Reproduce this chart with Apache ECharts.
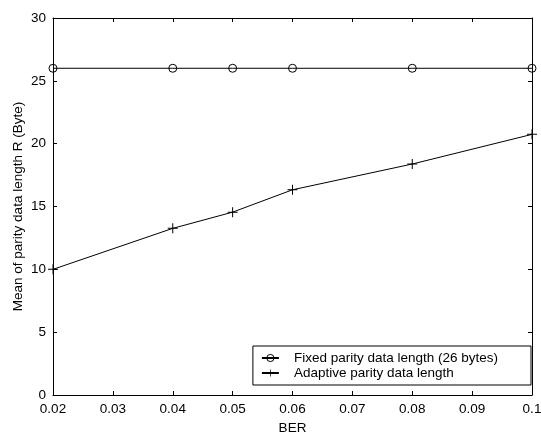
<!DOCTYPE html>
<html>
<head>
<meta charset="utf-8">
<script src="https://cdn.jsdelivr.net/npm/echarts@6/dist/echarts.min.js"></script>
<style>html,body{margin:0;padding:0;background:#fff}#c{width:541px;height:433px}</style>
</head>
<body>
<div id="c"></div>
<script>
const berValues = [0.02, 0.04, 0.05, 0.06, 0.08, 0.1];
const fixedLength = [26, 26, 26, 26, 26, 26];
const adaptiveLength = [10, 13.26, 14.55, 16.33, 18.38, 20.74];
const seriesNames = ['Fixed parity data length (26 bytes)', 'Adaptive parity data length'];
const xLabel = 'BER';
const yLabel = 'Mean of parity data length R (Byte)';

const font = 'Liberation Sans, Arial, sans-serif';
const fs = 13.5;
const plusPath = 'path://M4.5,0h1v4.5h4.5v1h-4.5v4.5h-1v-4.5h-4.5v-1h4.5z';

const chart = echarts.init(document.getElementById('c'), null, {renderer: 'canvas'});
const axisCommon = {
  axisLine: {show: true, onZero: false, lineStyle: {color: '#000', width: 1}},
  axisTick: {show: true, inside: true, length: 4, lineStyle: {color: '#000'}},
  splitLine: {show: false}
};
chart.setOption({
  animation: false,
  backgroundColor: '#fff',
  grid: {left: 53, right: 9, top: 18, bottom: 38, containLabel: false, outerBoundsMode: 'none'},
  xAxis: [
    Object.assign({
      type: 'value', min: 0.02, max: 0.1, interval: 0.01, position: 'bottom',
      name: xLabel, nameLocation: 'middle', nameGap: 25,
      nameTextStyle: {fontFamily: font, fontSize: fs, color: '#000'},
      axisLabel: {fontFamily: font, fontSize: fs, color: '#000', margin: 7,
        formatter: v => String(+v.toFixed(2))}
    }, axisCommon),
    Object.assign({
      type: 'value', min: 0.02, max: 0.1, interval: 0.01, position: 'top',
      axisLabel: {show: false}
    }, axisCommon)
  ],
  yAxis: [
    Object.assign({
      type: 'value', min: 0, max: 30, interval: 5, position: 'left',
      name: yLabel, nameLocation: 'middle', nameGap: 28, nameMoveOverlap: false,
      nameTextStyle: {fontFamily: font, fontSize: fs, color: '#000'},
      axisLabel: {fontFamily: font, fontSize: fs, color: '#000', margin: 7}
    }, axisCommon),
    Object.assign({
      type: 'value', min: 0, max: 30, interval: 5, position: 'right',
      axisLabel: {show: false}
    }, axisCommon)
  ],
  legend: {
    orient: 'vertical', right: 10, bottom: 48,
    backgroundColor: '#fff', borderColor: '#000', borderWidth: 1, borderRadius: 0,
    padding: [5, 33, 5, 8], itemGap: 1, itemWidth: 17, itemHeight: 9,
    itemStyle: {borderWidth: 1},
    textStyle: {fontFamily: font, fontSize: fs, color: '#000', padding: [0, 0, 0, 10]},
    data: seriesNames
  },
  series: [
    {
      name: seriesNames[0], type: 'line',
      data: berValues.map((x, i) => [x, fixedLength[i]]),
      symbol: 'circle', symbolSize: 8,
      lineStyle: {color: '#000', width: 1},
      itemStyle: {color: 'rgba(255,255,255,0)', borderColor: '#000', borderWidth: 1},
      clip: false
    },
    {
      name: seriesNames[1], type: 'line',
      data: berValues.map((x, i) => [x, adaptiveLength[i]]),
      symbol: plusPath, symbolSize: 10,
      lineStyle: {color: '#000', width: 1},
      itemStyle: {color: '#000'},
      clip: false
    }
  ]
});
</script>
</body>
</html>
